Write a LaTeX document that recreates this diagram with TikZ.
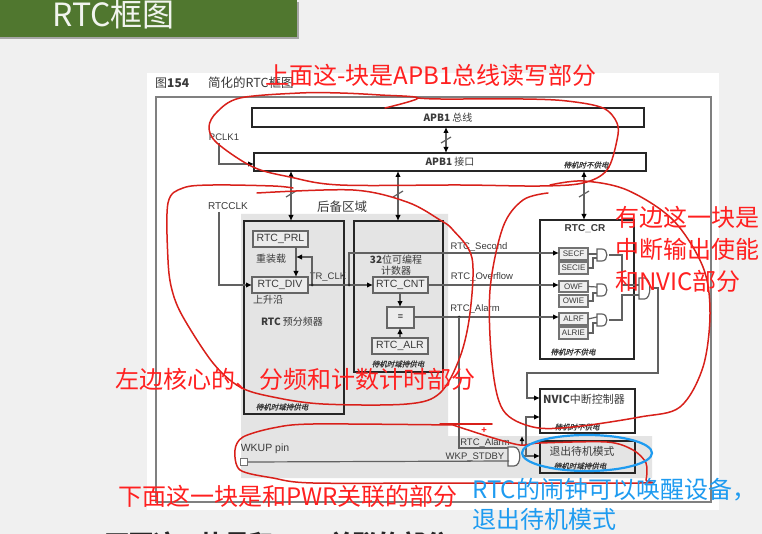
\documentclass[tikz,border=0pt]{standalone}
\usepackage{fontspec}
\usetikzlibrary{arrows.meta}
\setmainfont{Noto Sans CJK SC}
\newfontfamily\lat{Liberation Sans}
\newfontfamily\cjkit[FakeSlant=0.25,FakeBold=0.6]{Noto Sans CJK SC}
\definecolor{pagebg}{HTML}{F0F0F0}
\definecolor{barg}{HTML}{50772F}
\definecolor{regiong}{HTML}{E4E4E4}
\definecolor{redink}{HTML}{FF2020}
\definecolor{redline}{HTML}{D8201A}
\definecolor{bluetext}{HTML}{1E9BF0}
\definecolor{ink}{HTML}{3A3A3A}
\newcommand{\mybox}[7][thickbox]{%
  \pgfmathsetmacro\cxx{(#3+#5)/2}\pgfmathsetmacro\cyy{(#4+#6)/2}%
  \pgfmathsetmacro\www{#5-#3}\pgfmathsetmacro\hhh{#6-#4}%
  \node[#1,minimum width=\www pt,minimum height=\hhh pt] (#2) at (\cxx,\cyy) {#7};}
\newcommand{\andg}[4]{% x, yc, h, w
  \pgfmathsetmacro\ga{#2-#3/2}\pgfmathsetmacro\gb{#2+#3/2}%
  \pgfmathsetmacro\gc{#1+#4/2}\pgfmathsetmacro\gd{#1+#4*1.15}%
  \draw[wire,fill=white] (#1,\ga) -- (\gc,\ga) .. controls (\gd,\ga) and (\gd,\gb) .. (\gc,\gb) -- (#1,\gb) -- cycle;}
\tikzset{
  thickbox/.style={draw=black!85,line width=1.6pt,inner sep=0pt,outer sep=0pt,font=\fontsize{10}{11}\selectfont,text=ink},
  regbox/.style={draw=black!60,line width=1.4pt,fill=regiong!70!white,inner sep=0pt,outer sep=0pt,font=\lat\fontsize{10.5}{11}\selectfont,text=ink},
  flagbox/.style={draw=black!55,line width=1.1pt,fill=regiong!60!white,inner sep=0pt,outer sep=0pt,font=\lat\fontsize{8}{8}\selectfont,text=ink},
  wire/.style={draw=black!62,line width=1.2pt},
  arr/.style={wire,-{Latex[length=6pt,width=5.5pt,black]}},
  darr/.style={wire,{Latex[length=6pt,width=5.5pt,black]}-{Latex[length=6pt,width=5.5pt,black]}},
  lbl/.style={inner sep=0pt,text=ink,font=\lat\fontsize{9.5}{10}\selectfont},
  cjkl/.style={inner sep=0pt,text=ink,font=\fontsize{10}{11.5}\selectfont},
  power/.style={inner sep=0pt,text=black!80,font=\cjkit\fontsize{7.5}{9}\selectfont},
  dot/.style={circle,fill=black!85,inner sep=0pt,minimum size=3pt},
  redcurve/.style={draw=redline,line width=1.5pt,line cap=round,line join=round},
  redt/.style={inner sep=0pt,anchor=west,text=redink,font=\fontsize{24}{24}\selectfont},
  bluet/.style={inner sep=0pt,anchor=west,text=bluetext,font=\fontsize{24}{24}\selectfont},
}
\begin{document}
\begin{tikzpicture}[x=1pt,y=-1pt]
\useasboundingbox (0,0) rectangle (762,534);
\clip (0,0) rectangle (762,534);
\fill[pagebg] (0,0) rectangle (762,534);
% clipped caption at the foot
\node[inner sep=0pt,anchor=west,text=black!85,font=\fontsize{24}{24}\selectfont\bfseries] (foot) at (105,543.5) {下面这一块是和PWR关联的部分};
% title bar
\fill[black!35] (0,2) rectangle (299,39);
\fill[barg] (0,0) rectangle (297,37);
\node[inner sep=0pt,anchor=west,text=white!92!barg,font=\fontsize{32}{32}\selectfont] (title) at (52,14) {RTC框图};
% panel
\fill[white] (147,73) rectangle (719,510);
\draw[black!50,line width=1.2pt] (156,97) rectangle (711,502);
\fill[regiong] (241,214) -- (448,214) -- (448,436) -- (652,436) -- (652,478) -- (241,478) -- cycle;
\node[cjkl,font=\fontsize{12}{12}\selectfont,anchor=west] (fig) at (155,83) {图\textbf{154}};
\node[cjkl,font=\fontsize{12.5}{12}\selectfont,anchor=west] (figt) at (208,83) {简化的RTC框图};
% boxes
\mybox{bus}{252}{108}{644}{127}{\textbf{APB1} 总线}
\mybox{apb}{254}{153}{646}{171}{\textbf{APB1} 接口}
\mybox{pre}{244}{221}{344}{414}{}
\mybox{cnt}{354}{221}{443}{372}{}
\mybox{cr}{540}{220}{634}{359}{}
\mybox[thickbox,fill=white]{nvic}{540}{389}{635}{433}{}
\mybox{exit}{540}{441}{635}{473}{}
\mybox[regbox]{prl}{253}{231}{308}{247}{RTC\_PRL}
\mybox[regbox]{div}{252}{277}{308}{293}{RTC\_DIV}
\mybox[regbox]{rcnt}{373}{277}{428}{293}{RTC\_CNT}
\mybox[regbox,font=\lat\fontsize{9}{9}\selectfont\bfseries]{eq}{387}{307}{414}{328}{=}
\mybox[regbox]{alr}{372}{338}{428}{354}{RTC\_ALR}
\mybox[flagbox]{secf}{559}{248}{588}{260}{SECF}
\mybox[flagbox]{secie}{559}{262}{588}{274}{SECIE}
\mybox[flagbox]{owf}{559}{281}{588}{292}{OWF}
\mybox[flagbox]{owie}{559}{295}{588}{307}{OWIE}
\mybox[flagbox]{alrf}{559}{313}{588}{325}{ALRF}
\mybox[flagbox]{alrie}{559}{327}{588}{339}{ALRIE}
\node[flagbox,minimum size=7pt,fill=white] (pin) at (244,462) {};
% labels
\node[cjkl,font=\fontsize{12.5}{13}\selectfont] (l1) at (342,207) {后备区域};
\node[lbl] (l2) at (224,137) {PCLK1};
\node[lbl,font=\lat\fontsize{10}{10}\selectfont] (l3) at (228,206) {RTCCLK};
\node[cjkl] (l4) at (271,259) {重装载};
\node[lbl] (l5) at (328,277) {TR\_CLK};
\node[cjkl] (l6) at (268,300) {上升沿};
\node[cjkl] (l7) at (292,322) {\textbf{RTC} 预分频器};
\node[cjkl,align=center] (l8) at (396,265) {\textbf{32}位可编程\\计数器};
\node[cjkl] (l9) at (585,229) {\lat\bfseries\fontsize{10}{10}\selectfont RTC\_CR};
\node[lbl] (l10) at (479,247) {RTC\_Second};
\node[lbl] (l11) at (482,277) {RTC\_Overflow};
\node[lbl] (l12) at (475,309) {RTC\_Alarm};
\node[cjkl,font=\fontsize{11}{11}\selectfont] (l13) at (584,399) {\textbf{NVIC}中断控制器};
\node[cjkl,font=\fontsize{10.8}{11}\selectfont] (l14) at (582,451) {退出待机模式};
\node[lbl,font=\lat\fontsize{10.5}{11}\selectfont] (l15) at (265,449) {WKUP pin};
\node[lbl] (l16) at (485,443) {RTC\_Alarm};
\node[lbl] (l17) at (475,457) {WKP\_STDBY};
\node[power] (p1) at (586,165) {待机时不供电};
\node[power] (p2) at (282,407) {待机时域持供电};
\node[power] (p3) at (398,364) {待机时域持供电};
\node[power] (p4) at (573,352) {待机时不供电};
\node[power] (p5) at (577,427) {待机时不供电};
\node[power] (p6) at (580,466) {待机时域持供电};
% named points
\coordinate (pclk) at (219,143);
\coordinate (rclk) at (219,212);
\coordinate (trdot) at (312,285);
\coordinate (splitdot) at (349,285);
\coordinate (aldot) at (459,317);
% connectors
\draw[darr] (bus.south -| 446,0) -- (apb.north -| 446,0);
\draw[darr] (apb.south -| 291,0) -- (pre.north -| 291,0);
\draw[darr] (apb.south -| 398,0) -- (cnt.north -| 398,0);
\draw[darr] (apb.south -| 584,0) -- (cr.north -| 584,0);
\draw[wire] (441,143) -- (451,137);
\draw[wire] (286,197) -- (296,191);
\draw[wire] (393,197) -- (403,191);
\draw[wire] (579,197) -- (589,191);
\draw[arr] (pclk) |- (apb.west |- 0,164);
\draw[arr] (rclk) |- (div.west);
\draw[arr] (prl.south -| 296,0) -- (div.north -| 296,0);
\draw[arr] (trdot) |- (296,257);
\draw[wire] (div.east) -- (splitdot);
\draw[arr] (splitdot) -- (rcnt.west);
\draw[arr] (splitdot) |- (secf.west |- 0,253);
\draw[arr] (rcnt.east) -- (owf.west |- 0,285);
\draw[arr] (rcnt.south -| 400,0) -- (eq.north -| 400,0);
\draw[arr] (alr.north -| 400,0) -- (eq.south -| 400,0);
\draw[arr] (eq.east |- 0,317) -- (alrf.west |- 0,317);
\node[dot] (d1) at (trdot) {};
\node[dot] (d2) at (splitdot) {};
\node[dot] (d3) at (aldot) {};
% gates
\andg{597}{255}{12}{10}
\andg{597}{290}{12}{10}
\andg{597}{320}{12}{10}
\andg{639}{288.5}{21}{11}
\andg{508}{456.5}{19}{12}
\coordinate (g1o) at (609,255);
\coordinate (g3o) at (609,320);
\coordinate (orout) at (652,288);
\coordinate (wkgout) at (522,456);
\draw[wire] (secf.east) -- (597,254);
\draw[wire] (secie.east) -- ++(5,0) |- (597,258);
\draw[wire] (owf.east) -- (597,287);
\draw[wire] (owie.east) -- ++(5,0) |- (597,293);
\draw[wire] (alrf.east) -- (597,317);
\draw[wire] (alrie.east) -- ++(5,0) |- (597,323);
\draw[wire] (g1o) -- (622,255) |- (639,285);
\draw[wire] (g3o) -- (622,320) |- (639,295);
\draw[arr] (orout) -- (658,288) -- (658,373) -- (527,373) |- (nvic.west |- 0,398);
\draw[arr] (wkgout) -- (exit.west |- 0,456);
\draw[arr] (526,456) |- (nvic.west |- 0,417);
\draw[wire] (aldot) |- (508,448);
\draw[wire] (pin.east) -- (509,461);
\draw[-{Latex[length=5pt,width=5pt,black]},wire] (522,445) -- (522,436);
% red hand-drawn loops
\draw[redcurve] plot[smooth,tension=0.55] coordinates {(385,108) (418,98) (380,95) (340,93) (300,93) (240,98) (217,112) (209,127) (217,143) (253,167) (290,177) (340,185) (460,185) (540,186) (583,183) (607,170) (617,140) (617,123) (603,108) (567,101) (523,99) (440,99) (418,98)};
\draw[redcurve] plot[smooth,tension=0.55] coordinates {(293,188) (273,186) (213,185) (183,188) (168,203) (168,260) (172,290) (183,317) (213,363) (240,387) (273,397) (323,404) (407,404) (440,393) (460,357) (470,313) (472,258) (453,230) (440,220) (407,202) (353,190) (257,193)};
\draw[redcurve] plot[smooth,tension=0.55] coordinates {(548,193) (523,200) (503,227) (490,290) (492,363) (503,410) (533,427) (573,427) (640,417) (680,407) (703,367) (710,313) (703,267) (673,220) (627,190) (583,181) (550,185)};
\draw[redcurve] plot[smooth,tension=0.5] coordinates {(453,425) (313,424) (273,428) (243,437) (235,450) (240,470) (273,478) (313,483) (460,483) (640,483) (646,480) (646,463) (633,450) (607,442) (540,443) (520,445) (490,437) (453,425)};
\draw[redcurve] (440,424) -- (492,424);
\node[inner sep=0pt,text=redink,font=\fontsize{9}{9}\selectfont\bfseries] (plus) at (484,431) {+};
\draw[draw=bluetext,line width=2.2pt] (587,453) ellipse [x radius=65,y radius=18];
% annotations
\node[redt] (t1) at (265,75) {上面这-块是APB1总线读写部分};
\node[redt] (t2) at (615,217) {有边这一块是};
\node[redt] (t3) at (615,249) {中断输出使能};
\node[redt] (t4) at (615,281) {和NVIC部分};
\node[redt] (t5) at (115,379) {左边核心的、分频和计数计时部分};
\node[redt] (t6) at (118,496) {下面这一块是和PWR关联的部分};
\node[bluet] (t7) at (472,490) {RTC的闹钟可以唤醒设备，};
\node[bluet] (t8) at (472,519) {退出待机模式};
\end{tikzpicture}
\end{document}
